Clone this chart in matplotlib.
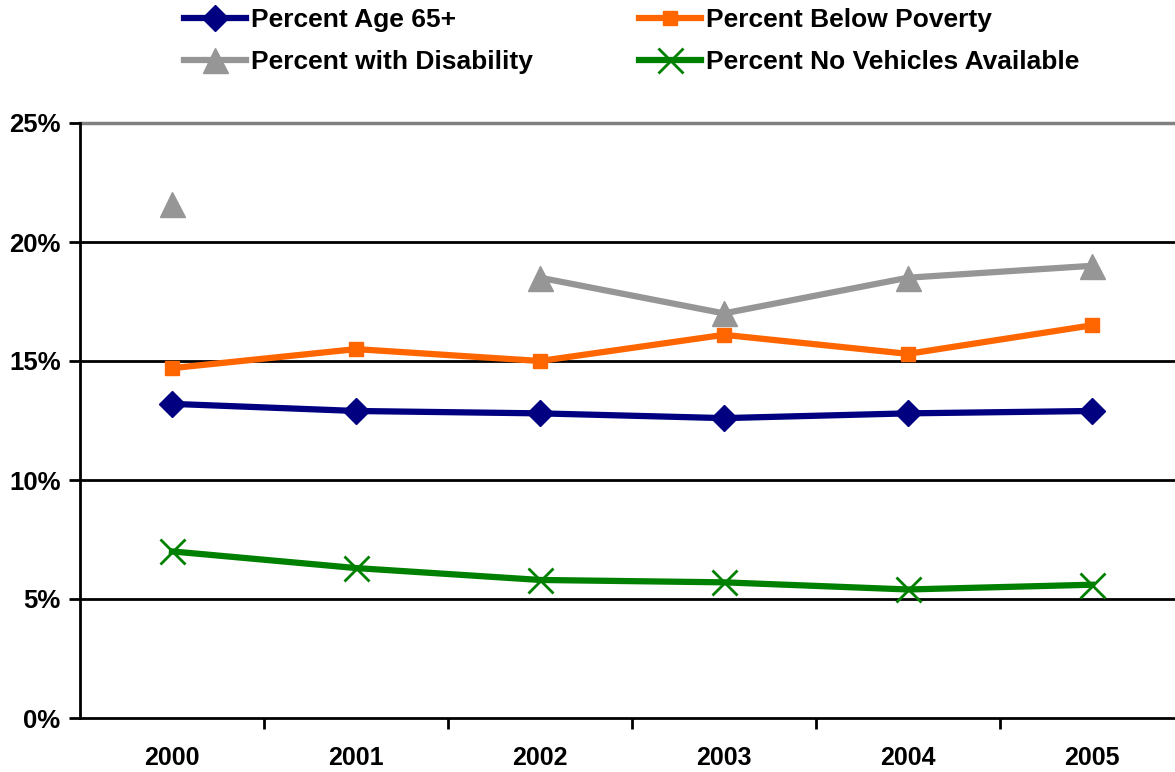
import matplotlib
matplotlib.use("Agg")
import matplotlib.pyplot as plt
from matplotlib.ticker import FuncFormatter

plt.rcParams["font.family"] = ["Liberation Sans", "DejaVu Sans"]
plt.rcParams["font.weight"] = "bold"

years = ["2000", "2001", "2002", "2003", "2004", "2005"]
age65 = [13.2, 12.9, 12.8, 12.6, 12.8, 12.9]
poverty = [14.7, 15.5, 15.0, 16.1, 15.3, 16.5]
disability = [21.6, None, 18.5, 17.0, 18.5, 19.0]
no_vehicle = [7.0, 6.3, 5.8, 5.7, 5.4, 5.6]

W, H = 1175, 772
fig = plt.figure(figsize=(W / 100, H / 100), dpi=100)
# plot area runs slightly past the right edge of the canvas
ax = fig.add_axes([80 / W, (H - 718) / H, 1104 / W, (718 - 123) / H])

x = list(range(len(years)))
dis_vals = [float("nan") if v is None else v for v in disability]

l1, = ax.plot(x, age65, color="#000080", lw=4.5, marker="D", ms=13,
              mec="#000080", label="Percent Age 65+", zorder=4)
l2, = ax.plot(x, poverty, color="#FF6600", lw=4.5, marker="s", ms=10.5,
              mec="#FF6600", label="Percent Below Poverty", zorder=4)
l3, = ax.plot(x, dis_vals, color="#969696", lw=4.5, marker="^", ms=18,
              mec="#969696", label="Percent with Disability", zorder=4)
l4, = ax.plot(x, no_vehicle, color="#008000", lw=4.5, marker="x", ms=18,
              mew=2, mec="#008000", label="Percent No Vehicles Available", zorder=4)

ax.set_xlim(-0.5, 5.5)
ax.set_ylim(0, 25)
ax.set_yticks([0, 5, 10, 15, 20, 25])
ax.yaxis.set_major_formatter(FuncFormatter(lambda v, _: f"{v:.0f}%"))
ax.set_xticks(x)
ax.set_xticklabels(years)
ax.set_xticks([i + 0.5 for i in range(5)], minor=True)
ax.tick_params(axis="x", which="major", length=0, pad=20, labelsize=18)
ax.tick_params(axis="x", which="minor", length=8, width=2, direction="out")
ax.tick_params(axis="y", length=8, width=2, direction="out", pad=6, labelsize=18.5)

for v in [5, 10, 15, 20]:
    ax.axhline(v, color="black", lw=2, zorder=1)
ax.axhline(25, color="#808080", lw=2.5, zorder=1, clip_on=False)

for s in ["top", "right"]:
    ax.spines[s].set_visible(False)
ax.spines["left"].set_linewidth(2)
ax.spines["bottom"].set_linewidth(2)

# column-first fill: age/disability on the left, poverty/vehicles on the right
fig.legend(handles=[l1, l3, l2, l4], loc="upper left",
           bbox_to_anchor=(184 / W, 1 - 8 / H), ncol=2, frameon=False,
           fontsize=19, handlelength=2.35, handletextpad=0.2,
           columnspacing=4.0, labelspacing=0.69,
           borderpad=0, borderaxespad=0)

fig.savefig("out.png", dpi=100)
